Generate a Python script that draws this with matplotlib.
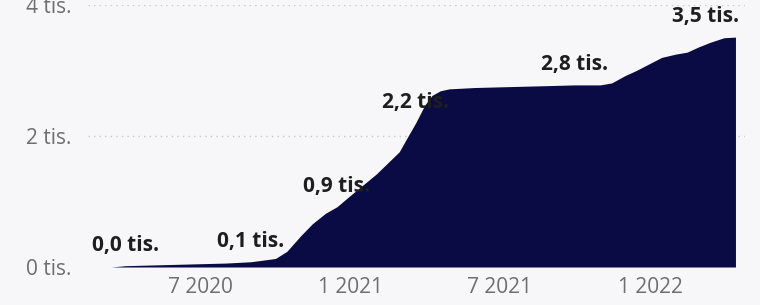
import numpy as np
import pandas as pd
import matplotlib
matplotlib.use("Agg")
import matplotlib.pyplot as plt
import matplotlib.dates as mdates

# === Data (cumulative, thousands) ===
dates = pd.to_datetime([
    "2020-03-15", "2020-04-01", "2020-05-01", "2020-06-01", "2020-07-01",
    "2020-08-01", "2020-09-01", "2020-10-01", "2020-10-15", "2020-11-01",
    "2020-11-15", "2020-12-01", "2020-12-15", "2021-01-01", "2021-02-01",
    "2021-03-01", "2021-03-10", "2021-03-21", "2021-04-01", "2021-04-10",
    "2021-04-20", "2021-05-01", "2021-06-01", "2021-07-01", "2021-08-01",
    "2021-09-01", "2021-10-01", "2021-11-01", "2021-11-15", "2021-12-01",
    "2021-12-15", "2022-01-01", "2022-01-15", "2022-02-01", "2022-02-15",
    "2022-03-01", "2022-03-15", "2022-04-01", "2022-04-15",
])
values = [
    0.00, 0.02, 0.03, 0.04, 0.05,
    0.06, 0.08, 0.13, 0.24, 0.48,
    0.66, 0.82, 0.92, 1.10, 1.42,
    1.76, 1.96, 2.20, 2.47, 2.62,
    2.69, 2.72, 2.74, 2.75, 2.76,
    2.77, 2.78, 2.78, 2.81, 2.92,
    3.00, 3.11, 3.20, 3.25, 3.28,
    3.36, 3.43, 3.50, 3.51,
]
label_dates = pd.to_datetime(["2020-04-01", "2020-09-01", "2020-12-15",
                              "2021-03-21", "2021-10-01", "2022-04-15"])
y_ticks = [0, 2, 4]
y_ticklabels = ["0 tis.", "2 tis.", "4 tis."]
x_ticks = pd.to_datetime(["2020-07-01", "2021-01-01", "2021-07-01", "2022-01-01"])
x_ticklabels = ["7 2020", "1 2021", "7 2021", "1 2022"]

plt.rcParams['font.family'] = ['Open Sans', 'DejaVu Sans']

W, H = 760, 305
fig = plt.figure(figsize=(W / 100, H / 100), dpi=100, facecolor="#f7f7fa")
ax = fig.add_axes([88 / W, (H - 267) / H, (745 - 88) / W, 262 / H])
ax.set_facecolor("#f7f7fa")

# pixel -> date mapping derived from tick positions (7 2020 at x=200, 0.82 px/day)
ref = mdates.date2num(pd.Timestamp("2020-07-01"))
ax.set_xlim(ref + (88 - 200) / 0.82, ref + (745 - 200) / 0.82)
ax.set_ylim(0, 4)

ax.fill_between(dates, values, 0, color="#0a0a44", linewidth=0, zorder=2)

# dotted gridlines
for yv in y_ticks[1:]:
    ax.axhline(yv, color="#c8c8cc", linestyle=(0, (1, 3)), linewidth=1, zorder=1)

ax.set_yticks(y_ticks)
ax.set_yticklabels(y_ticklabels)
ax.set_xticks(x_ticks)
ax.set_xticklabels(x_ticklabels)
ax.tick_params(axis="both", length=0, colors="#6e6e6e", labelsize=15)
ax.tick_params(axis="y", pad=12)
ax.tick_params(axis="x", pad=7)
for s in ax.spines.values():
    s.set_visible(False)

# data labels
for d in label_dates:
    v = values[list(dates).index(d)]
    txt = f"{v:.1f}".replace(".", ",") + " tis."
    ha = "right" if d == dates[-1] else "center"
    dx = 4 if ha == "right" else 0
    ax.annotate(txt, (d, v), xytext=(dx, 10), textcoords="offset pixels",
                ha=ha, va="bottom", fontsize=15, fontweight="bold",
                color="#1e1e1e", zorder=3, annotation_clip=False)

fig.savefig("out.png", dpi=100, facecolor=fig.get_facecolor())
